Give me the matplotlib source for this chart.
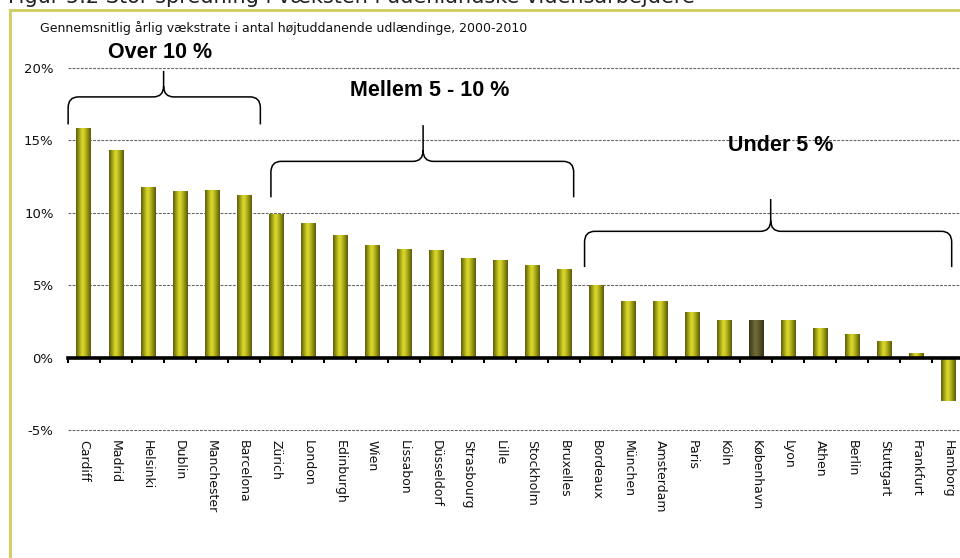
import numpy as np
import matplotlib
matplotlib.use("Agg")
import matplotlib.pyplot as plt
from matplotlib.path import Path
from matplotlib.patches import PathPatch
from matplotlib.colors import LinearSegmentedColormap
import matplotlib.lines as mlines

# data
cities = ["Cardiff", "Madrid", "Helsinki", "Dublin", "Manchester", "Barcelona",
          "Zürich", "London", "Edinburgh", "Wien", "Lissabon", "Düsseldorf",
          "Strasbourg", "Lille", "Stockholm", "Bruxelles", "Bordeaux", "München",
          "Amsterdam", "Paris", "Köln", "København", "Lyon", "Athen", "Berlin",
          "Stuttgart", "Frankfurt", "Hamborg"]
growth = [15.85, 14.3, 11.75, 11.5, 11.55, 11.2,
          9.9, 9.27, 8.45, 7.8, 7.5, 7.45,
          6.9, 6.7, 6.4, 6.1, 5.0, 3.9,
          3.9, 3.15, 2.6, 2.6, 2.6, 2.05, 1.65,
          1.15, 0.3, -3.0]
yticks = [-5, 0, 5, 10, 15, 20]
highlight = "København"

groups = ["Over 10 %", "Mellem 5 - 10 %", "Under 5 %"]

title = "Figur 5.2 Stor spredning i væksten i udenlandske vidensarbejdere"
subtitle = "Gennemsnitlig årlig vækstrate i antal højtuddanende udlændinge, 2000-2010"

W, H = 960, 558
fig = plt.figure(figsize=(W / 100, H / 100), dpi=100, facecolor="white")

# frame lines
border = "#d2cf6a"
fig.add_artist(mlines.Line2D([9.5 / W, 1.0], [1 - 9.5 / H, 1 - 9.5 / H], color=border, lw=2.2))
fig.add_artist(mlines.Line2D([9.5 / W, 9.5 / W], [0, 1 - 9.5 / H], color=border, lw=2.2))

# title is cut by the top edge in the source picture as well
fig.text(8 / W, 1 - 3 / H, title, fontsize=15, va="baseline", ha="left", color="#222222")
fig.text(40 / W, 1 - 28 / H, subtitle, fontsize=9, va="center", ha="left", color="#111111")

# 14.45 px per percent point, small margin so the -5% grid line shows
ax = fig.add_axes([67.5 / W, 1 - 431.5 / H, (964.5 - 67.5) / W, (431.5 - 66.5) / H])
ax.set_facecolor("none")

x = np.arange(len(cities))
bw = 0.44
bars = ax.bar(x, growth, width=bw, color="none", zorder=3)

gold = LinearSegmentedColormap.from_list(
    "gold", [(0, "#5e5d0c"), (0.4, "#d8d626"), (0.55, "#cfcd22"), (1, "#5b5a0c")])
dark = LinearSegmentedColormap.from_list(
    "dark", [(0, "#3a3814"), (0.4, "#6f6b3a"), (0.55, "#6a6636"), (1, "#363413")])
grad = np.linspace(0, 1, 64).reshape(1, -1)
for name, b in zip(cities, bars):
    x0 = b.get_x()
    y0 = b.get_y()
    cmap = dark if name == highlight else gold
    ax.imshow(grad, cmap=cmap, extent=[x0, x0 + b.get_width(), y0, y0 + b.get_height()],
              aspect="auto", zorder=3, interpolation="bilinear")

ax.set_xlim(-0.5, len(cities) - 0.5)
ax.set_ylim(-5.1, 20.1)

ax.set_yticks(yticks)
ax.set_yticklabels(["%d%%" % v for v in yticks], fontsize=9.5, color="#111111")
ax.tick_params(axis="y", length=0, pad=10)
ax.yaxis.grid(True, color="#666666", lw=0.8, ls=(0, (2.5, 1.2)), zorder=0)
ax.set_axisbelow(True)

for s in ["left", "right", "top"]:
    ax.spines[s].set_visible(False)
ax.spines["bottom"].set_position(("data", 0))
ax.spines["bottom"].set_linewidth(2.6)
ax.spines["bottom"].set_zorder(4)
ax.set_xticks(np.arange(len(cities)) - 0.5)
ax.set_xticklabels([])
ax.tick_params(axis="x", length=3.5, width=1.5, direction="out", color="black")

for i, name in enumerate(cities):
    ax.text(i, -5.7, name, rotation=270, ha="center", va="top", fontsize=9,
            color="#111111")


def brace(ax, x0, x1, xm, y_end, y_h, y_tip, rx=0.32, ry=0.75):
    verts = [(x0, y_end), (x0, y_h - ry), (x0, y_h), (x0 + rx, y_h),
             (xm - rx, y_h), (xm, y_h), (xm, y_h + ry), (xm, y_tip),
             (x1, y_end), (x1, y_h - ry), (x1, y_h), (x1 - rx, y_h),
             (xm + rx, y_h), (xm, y_h), (xm, y_h + ry)]
    codes = [Path.MOVETO, Path.LINETO, Path.CURVE3, Path.CURVE3,
             Path.LINETO, Path.CURVE3, Path.CURVE3, Path.LINETO,
             Path.MOVETO, Path.LINETO, Path.CURVE3, Path.CURVE3,
             Path.LINETO, Path.CURVE3, Path.CURVE3]
    ax.add_patch(PathPatch(Path(verts, codes), fill=False, lw=1.1, color="black",
                           zorder=5, clip_on=False))


brace(ax, -0.48, 5.52, 2.5, 16.1, 18.0, 19.8)
brace(ax, 5.85, 15.3, 10.6, 11.07, 13.55, 16.05)
brace(ax, 15.64, 27.1, 21.45, 6.25, 8.72, 10.95)

ax.text(2.4, 21.05, groups[0], ha="center", va="center", fontsize=15.5,
        fontweight="bold", family="Liberation Sans")
ax.text(10.8, 18.45, groups[1], ha="center", va="center", fontsize=15.5,
        fontweight="bold", family="Liberation Sans")
ax.text(21.75, 14.65, groups[2], ha="center", va="center", fontsize=15.5,
        fontweight="bold", family="Liberation Sans")

fig.savefig("out.png", dpi=100, facecolor="white")
